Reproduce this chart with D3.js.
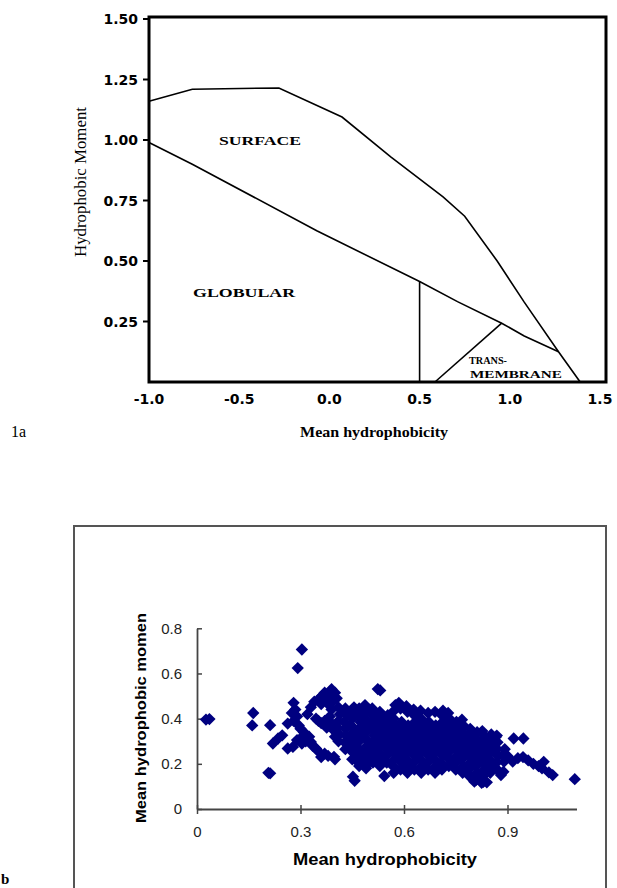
<!DOCTYPE html>
<html>
<head>
<meta charset="utf-8">
<script src="https://cdn.jsdelivr.net/npm/d3@7"></script>
<style>
  body { margin: 0; background: #fff; }
</style>
</head>
<body>
<div id="chart"></div>
<script>
// ---- panel 1a : region boundaries (mean hydrophobicity, hydrophobic moment)
var upperCurve = [[-1.0, 1.16], [-0.76, 1.21], [-0.28, 1.215], [0.07, 1.095], [0.34, 0.93],
  [0.63, 0.765], [0.75, 0.685], [0.93, 0.50], [1.08, 0.33], [1.27, 0.125], [1.39, 0]];
var lowerLine = [[-1.0, 0.99], [-0.76, 0.90], [-0.07, 0.625], [0.5, 0.415], [0.71, 0.332],
  [0.955, 0.243], [1.08, 0.19], [1.27, 0.125]];
var globularEdge = [[0.5, 0.415], [0.5, 0]];
var membraneEdge = [[0.585, 0], [0.955, 0.243]];
var topXTicks = [-1.0, -0.5, 0.0, 0.5, 1.0, 1.5];
var topYTicks = [0.25, 0.50, 0.75, 1.00, 1.25, 1.50];

// ---- panel 1b : peptides (mean hydrophobicity, mean hydrophobic moment)
var outlierPoints = [[0.026, 0.396], [0.036, 0.398], [0.163, 0.425], [0.16, 0.37], [0.212, 0.371],
  [0.207, 0.16], [0.212, 0.158], [0.304, 0.706], [0.292, 0.624], [0.524, 0.531], [0.531, 0.525],
  [0.452, 0.143], [0.457, 0.125], [0.543, 0.146], [1.095, 0.132]];
var leftGroup = [[0.22, 0.29], [0.235, 0.312], [0.247, 0.326], [0.263, 0.378], [0.263, 0.268],
  [0.278, 0.275], [0.28, 0.47], [0.285, 0.44], [0.275, 0.425], [0.29, 0.41], [0.28, 0.39],
  [0.295, 0.37], [0.30, 0.355], [0.31, 0.34], [0.305, 0.32], [0.29, 0.305], [0.304, 0.29],
  [0.315, 0.30], [0.325, 0.32], [0.33, 0.297], [0.335, 0.28], [0.345, 0.268], [0.352, 0.255],
  [0.36, 0.23], [0.37, 0.245], [0.38, 0.235], [0.397, 0.231], [0.40, 0.22]];
var upperLeftGroup = [[0.32, 0.42], [0.33, 0.45], [0.34, 0.475], [0.345, 0.40], [0.355, 0.49],
  [0.362, 0.50], [0.37, 0.515], [0.376, 0.49], [0.385, 0.52], [0.39, 0.53], [0.396, 0.50],
  [0.40, 0.515], [0.405, 0.49], [0.39, 0.47], [0.38, 0.465], [0.36, 0.465], [0.39, 0.44],
  [0.385, 0.41], [0.37, 0.39], [0.36, 0.38], [0.39, 0.38], [0.395, 0.35], [0.40, 0.32],
  [0.376, 0.36], [0.352, 0.39]];
var mainCluster = [
  [0.41, 0.30], [0.412, 0.33], [0.408, 0.36], [0.41, 0.39], [0.414, 0.42], [0.41, 0.45],
  [0.43, 0.265], [0.428, 0.295], [0.432, 0.325], [0.43, 0.355], [0.427, 0.385], [0.433, 0.415], [0.43, 0.445],
  [0.45, 0.22], [0.452, 0.25], [0.448, 0.28], [0.45, 0.31], [0.453, 0.34], [0.447, 0.37], [0.45, 0.40], [0.452, 0.43], [0.455, 0.45],
  [0.47, 0.19], [0.468, 0.205], [0.472, 0.235], [0.47, 0.265], [0.467, 0.295], [0.471, 0.325], [0.47, 0.355], [0.474, 0.385], [0.469, 0.415], [0.47, 0.445],
  [0.49, 0.18], [0.488, 0.19], [0.491, 0.22], [0.49, 0.25], [0.493, 0.28], [0.489, 0.31], [0.49, 0.34], [0.492, 0.37], [0.488, 0.40], [0.49, 0.43], [0.487, 0.46],
  [0.51, 0.205], [0.512, 0.235], [0.508, 0.265], [0.51, 0.295], [0.513, 0.325], [0.509, 0.355], [0.51, 0.385], [0.511, 0.415], [0.508, 0.445],
  [0.53, 0.19], [0.532, 0.22], [0.528, 0.25], [0.53, 0.28], [0.531, 0.31], [0.529, 0.34], [0.53, 0.37], [0.533, 0.40], [0.53, 0.43],
  [0.55, 0.205], [0.548, 0.235], [0.552, 0.265], [0.55, 0.295], [0.549, 0.325], [0.551, 0.355], [0.55, 0.385], [0.553, 0.415],
  [0.57, 0.16], [0.568, 0.19], [0.572, 0.22], [0.57, 0.25], [0.571, 0.28], [0.569, 0.31], [0.57, 0.34], [0.573, 0.37], [0.57, 0.40], [0.568, 0.43], [0.575, 0.46],
  [0.59, 0.175], [0.592, 0.205], [0.588, 0.235], [0.59, 0.265], [0.591, 0.295], [0.589, 0.325], [0.59, 0.355], [0.593, 0.385], [0.59, 0.445], [0.585, 0.47],
  [0.61, 0.16], [0.612, 0.19], [0.608, 0.22], [0.61, 0.25], [0.611, 0.28], [0.609, 0.31], [0.61, 0.34], [0.612, 0.37], [0.61, 0.43], [0.607, 0.455],
  [0.63, 0.175], [0.628, 0.205], [0.632, 0.235], [0.63, 0.265], [0.631, 0.295], [0.629, 0.325], [0.63, 0.355], [0.632, 0.385], [0.63, 0.415], [0.628, 0.44],
  [0.65, 0.16], [0.652, 0.19], [0.648, 0.22], [0.65, 0.25], [0.651, 0.28], [0.649, 0.31], [0.65, 0.34], [0.652, 0.37], [0.65, 0.40], [0.648, 0.435],
  [0.67, 0.175], [0.668, 0.205], [0.672, 0.235], [0.67, 0.265], [0.671, 0.295], [0.669, 0.325], [0.67, 0.355], [0.672, 0.385], [0.67, 0.425],
  [0.69, 0.16], [0.692, 0.19], [0.688, 0.22], [0.69, 0.25], [0.691, 0.28], [0.689, 0.31], [0.69, 0.34], [0.692, 0.37], [0.69, 0.43],
  [0.71, 0.175], [0.708, 0.205], [0.712, 0.235], [0.71, 0.265], [0.711, 0.295], [0.709, 0.325], [0.71, 0.355], [0.712, 0.385], [0.71, 0.415], [0.713, 0.435],
  [0.73, 0.19], [0.732, 0.22], [0.728, 0.25], [0.73, 0.28], [0.731, 0.31], [0.729, 0.34], [0.73, 0.37], [0.732, 0.40], [0.728, 0.425],
  [0.75, 0.175], [0.748, 0.205], [0.752, 0.235], [0.75, 0.265], [0.751, 0.295], [0.749, 0.325], [0.75, 0.355], [0.752, 0.385],
  [0.77, 0.16], [0.772, 0.19], [0.768, 0.22], [0.77, 0.25], [0.771, 0.28], [0.769, 0.31], [0.77, 0.34], [0.772, 0.37], [0.768, 0.395],
  [0.79, 0.145], [0.788, 0.175], [0.792, 0.205], [0.79, 0.235], [0.791, 0.265], [0.789, 0.295], [0.79, 0.325], [0.792, 0.355],
  [0.81, 0.13], [0.812, 0.16], [0.808, 0.19], [0.81, 0.22], [0.811, 0.25], [0.809, 0.28], [0.81, 0.31], [0.812, 0.34],
  [0.83, 0.12], [0.828, 0.145], [0.832, 0.175], [0.83, 0.205], [0.831, 0.235], [0.829, 0.265], [0.83, 0.295], [0.832, 0.325], [0.827, 0.345],
  [0.85, 0.16], [0.852, 0.19], [0.848, 0.22], [0.85, 0.25], [0.851, 0.28], [0.849, 0.31], [0.853, 0.33],
  [0.87, 0.175], [0.868, 0.205], [0.872, 0.235], [0.87, 0.265], [0.871, 0.295], [0.869, 0.325],
  [0.89, 0.21], [0.888, 0.24], [0.892, 0.265],
  [0.804, 0.121], [0.825, 0.116], [0.84, 0.118], [0.881, 0.15], [0.888, 0.165]];
var rightTail = [[0.90, 0.235], [0.915, 0.21], [0.93, 0.225], [0.945, 0.23], [0.96, 0.215],
  [0.975, 0.20], [0.99, 0.19], [1.005, 0.209], [1.0, 0.18], [1.02, 0.162], [1.031, 0.15],
  [0.918, 0.312], [0.946, 0.312], [0.866, 0.319]];
var bottomXTicks = [0, 0.3, 0.6, 0.9];
var bottomYTicks = [0, 0.2, 0.4, 0.6, 0.8];

var W = 617, H = 888;
var svg = d3.select("#chart").append("svg")
  .attr("width", W).attr("height", H)
  .style("background", "#fff");

var serif = "'Liberation Serif', 'Times New Roman', serif";
var sans = "'Liberation Sans', Arial, sans-serif";
var heavy = "'DejaVu Sans', Verdana, sans-serif";

// ================= panel 1a =================
var x1 = d3.scaleLinear().domain([-1, 1.5]).range([149, 600]);
var y1 = d3.scaleLinear().domain([0, 1.5]).range([382, 19]);

var line1 = d3.line().x(function(d) { return x1(d[0]); }).y(function(d) { return y1(d[1]); });

var panelA = svg.append("g");

// y tick marks and labels
panelA.selectAll("line.ytick").data(topYTicks).enter().append("line")
  .attr("x1", 143).attr("x2", 149)
  .attr("y1", function(d) { return y1(d); }).attr("y2", function(d) { return y1(d); })
  .attr("stroke", "#000").attr("stroke-width", 2);

panelA.selectAll("text.ylab").data(topYTicks).enter().append("text")
  .attr("x", 138)
  .attr("y", function(d) { return y1(d); })
  .attr("dy", "0.36em")
  .attr("text-anchor", "end")
  .attr("font-family", heavy).attr("font-weight", "bold").attr("font-size", 14)
  .text(function(d) { return d3.format(".2f")(d); });

panelA.selectAll("text.xlab").data(topXTicks).enter().append("text")
  .attr("x", function(d) { return x1(d); })
  .attr("y", 404)
  .attr("text-anchor", "middle")
  .attr("font-family", heavy).attr("font-weight", "bold").attr("font-size", 14)
  .text(function(d) { return d3.format(".1f")(d).replace("\u2212", "-"); });

// region lines
[upperCurve, lowerLine, globularEdge, membraneEdge].forEach(function(pts) {
  panelA.append("path")
    .attr("d", line1(pts))
    .attr("fill", "none")
    .attr("stroke", "#000")
    .attr("stroke-width", 1.6);
});

// frame
panelA.append("rect")
  .attr("x", x1(-1)).attr("y", 17)
  .attr("width", 457).attr("height", y1(0) - 17)
  .attr("fill", "none").attr("stroke", "#000").attr("stroke-width", 3);

// region names
function regionText(txt, xv, yv, len, size) {
  panelA.append("text")
    .attr("x", x1(xv)).attr("y", y1(yv))
    .attr("text-anchor", "middle")
    .attr("font-family", serif).attr("font-weight", "bold").attr("font-size", size)
    .attr("textLength", len).attr("lengthAdjust", "spacingAndGlyphs")
    .text(txt);
}
regionText("SURFACE", -0.385, 0.98, 82, 13);
regionText("GLOBULAR", -0.473, 0.35, 102, 13);
regionText("TRANS-", 0.879, 0.074, 38, 11);
regionText("MEMBRANE", 1.034, 0.017, 92, 11);

// axis titles
panelA.append("text")
  .attr("transform", "translate(86,182) rotate(-90)")
  .attr("text-anchor", "middle")
  .attr("font-family", serif).attr("font-size", 16)
  .attr("textLength", 150).attr("lengthAdjust", "spacingAndGlyphs")
  .text("Hydrophobic Moment");

panelA.append("text")
  .attr("x", 374).attr("y", 437)
  .attr("text-anchor", "middle")
  .attr("font-family", serif).attr("font-weight", "bold").attr("font-size", 15)
  .attr("textLength", 148).attr("lengthAdjust", "spacingAndGlyphs")
  .text("Mean hydrophobicity");

panelA.append("text")
  .attr("x", 11).attr("y", 437)
  .attr("font-family", serif).attr("font-size", 16)
  .text("1a");

// ================= panel 1b =================
var x2 = d3.scaleLinear().domain([0, 1.1]).range([197, 576.5]);
var y2 = d3.scaleLinear().domain([0, 0.8]).range([809, 628.3]);

var panelB = svg.append("g");

panelB.append("rect")
  .attr("x", 74).attr("y", 526)
  .attr("width", 532).attr("height", 420)
  .attr("fill", "none").attr("stroke", "#555").attr("stroke-width", 2);

var yAxis = panelB.append("g")
  .attr("transform", "translate(" + x2(0) + ",0)")
  .call(d3.axisLeft(y2).tickValues(bottomYTicks).tickSizeInner(-5).tickSizeOuter(0)
    .tickPadding(15).tickFormat(d3.format("")));

var xAxis = panelB.append("g")
  .attr("transform", "translate(0," + y2(0) + ")")
  .call(d3.axisBottom(x2).tickValues(bottomXTicks).tickSizeInner(5).tickSizeOuter(0)
    .tickPadding(12).tickFormat(d3.format("")));

xAxis.selectAll(".tick line").attr("y1", -4);

[yAxis, xAxis].forEach(function(ax) {
  ax.select(".domain").attr("stroke", "#444").attr("stroke-width", 1.8);
  ax.selectAll(".tick line").attr("stroke", "#444").attr("stroke-width", 1.5);
  ax.selectAll("text")
    .attr("font-family", sans).attr("font-size", 15).attr("fill", "#222");
});

// diamond markers
var allPoints = outlierPoints.concat(leftGroup, upperLeftGroup, mainCluster, rightTail);
var diamond = d3.symbol().type(d3.symbolSquare).size(76);
panelB.append("g").selectAll("path")
  .data(allPoints).enter().append("path")
  .attr("d", diamond)
  .attr("transform", function(d) {
    return "translate(" + x2(d[0]) + "," + y2(d[1]) + ") rotate(45)";
  })
  .attr("fill", "#000080");

panelB.append("text")
  .attr("transform", "translate(146,718) rotate(-90)")
  .attr("text-anchor", "middle")
  .attr("font-family", sans).attr("font-weight", "bold").attr("font-size", 15)
  .attr("textLength", 210).attr("lengthAdjust", "spacingAndGlyphs")
  .text("Mean hydrophobic momen");

panelB.append("text")
  .attr("x", 385).attr("y", 865)
  .attr("text-anchor", "middle")
  .attr("font-family", sans).attr("font-weight", "bold").attr("font-size", 16)
  .attr("textLength", 184).attr("lengthAdjust", "spacingAndGlyphs")
  .text("Mean hydrophobicity");

svg.append("text")
  .attr("x", 1).attr("y", 884)
  .attr("font-family", serif).attr("font-weight", "bold").attr("font-size", 15)
  .text("b");
</script>
</body>
</html>
